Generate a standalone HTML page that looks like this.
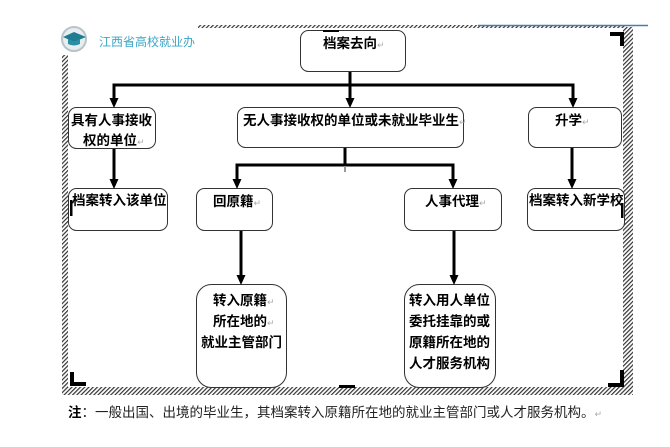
<!DOCTYPE html>
<html><head><meta charset="utf-8"><style>
html,body{margin:0;padding:0;background:#fff;}
body{width:670px;height:447px;overflow:hidden;}
svg{display:block;}
.t{font-family:"Liberation Sans","Noto Sans CJK SC",sans-serif;font-weight:bold;font-size:13.5px;fill:#000;}
.r{font-family:"Liberation Sans","DejaVu Sans",sans-serif;font-size:9px;fill:#aaa;font-weight:normal;}
.n{font-family:"Liberation Sans","Noto Sans CJK SC",sans-serif;font-size:13.5px;fill:#222;}
</style></head><body>
<svg width="670" height="447" viewBox="0 0 670 447" xmlns="http://www.w3.org/2000/svg">
<defs>
<pattern id="h" width="3" height="3" patternUnits="userSpaceOnUse" patternTransform="rotate(45)">
<rect width="3" height="3" fill="#fff"/><rect width="1.2" height="3" fill="#333"/>
</pattern>
</defs>
<!-- hatched frame -->
<rect x="198" y="25" width="427" height="3" fill="url(#h)"/>
<rect x="62" y="55" width="6" height="340" fill="url(#h)"/>
<rect x="623" y="27" width="10" height="368" fill="url(#h)"/>
<rect x="62" y="387" width="571" height="8" fill="url(#h)"/>
<line x1="478" y1="25.5" x2="648" y2="25.5" stroke="#4a7ab0" stroke-width="1.5"/>
<!-- corner marks -->
<path d="M610 34 H622 V46" fill="none" stroke="#000" stroke-width="4"/>
<path d="M72 372 V384 H86" fill="none" stroke="#000" stroke-width="4"/>
<path d="M608 385 H622 V370" fill="none" stroke="#000" stroke-width="4"/>
<rect x="339" y="385" width="16" height="3" fill="#000"/>
<!-- logo -->
<circle cx="74" cy="39" r="12" fill="#e8eef0" stroke="#b8c4c8" stroke-width="2"/>
<path d="M63 37 L74 32 L86 37 L74 42 Z" fill="#1f7d92"/>
<path d="M68 39 V44 Q74 47 80 44 V39 L74 42 Z" fill="#2a8fa6"/>
<text x="99" y="46" style="font-family:'Liberation Sans','Noto Sans CJK SC',sans-serif;font-size:12px;fill:#3aa6c6;">江西省高校就业办</text>
<!-- boxes -->
<g fill="#fff" stroke="#333" stroke-width="1">
<rect x="300.5" y="30.5" width="105" height="41" rx="8"/>
<rect x="68.5" y="107.5" width="87" height="41" rx="8"/>
<rect x="237.5" y="107.5" width="226" height="40" rx="8"/>
<rect x="528.5" y="107.5" width="93" height="40" rx="8"/>
<rect x="68.5" y="188.5" width="99" height="42" rx="8"/>
<rect x="196.5" y="188.5" width="76" height="42" rx="8"/>
<rect x="404.5" y="188.5" width="97" height="42" rx="8"/>
<rect x="527.5" y="188.5" width="97" height="42" rx="8"/>
<rect x="196.5" y="284.5" width="90" height="103" rx="15"/>
<rect x="404.5" y="284.5" width="91" height="103" rx="15"/>
</g>
<!-- connectors -->
<g stroke="#000" stroke-width="3" fill="none">
<line x1="350" y1="72" x2="350" y2="100"/>
<path d="M114 100 V85 H573 V100"/>
<line x1="114" y1="149" x2="114" y2="181"/>
<line x1="572" y1="148" x2="572" y2="181"/>
<line x1="345" y1="148" x2="345" y2="166"/>
<path d="M237 181 V165 H453 V181"/>
<line x1="241" y1="231" x2="241" y2="277"/>
<line x1="454" y1="231" x2="454" y2="277"/>
</g>
<line x1="345" y1="166" x2="345" y2="172" stroke="#999" stroke-width="2"/>
<g fill="#000">
<path d="M109.5 98 H118.5 L114 108 Z"/>
<path d="M345.5 98 H354.5 L350 108 Z"/>
<path d="M568.5 98 H577.5 L573 108 Z"/>
<path d="M109.5 179 H118.5 L114 189 Z"/>
<path d="M567.5 179 H576.5 L572 189 Z"/>
<path d="M232.5 179 H241.5 L237 189 Z"/>
<path d="M448.5 179 H457.5 L453 189 Z"/>
<path d="M236.5 275 H245.5 L241 285 Z"/>
<path d="M449.5 275 H458.5 L454 285 Z"/>
</g>
<!-- cursor marks -->
<rect x="70" y="200" width="2.5" height="16" fill="#000"/>
<rect x="621" y="203" width="2.5" height="15" fill="#000"/>
<rect x="323" y="30" width="16" height="2" fill="#000"/>
<!-- texts -->
<text class="t" x="323" y="48">档案去向<tspan class="r">↵</tspan></text>
<text class="t" x="71" y="125">具有人事接收</text>
<text class="t" x="83" y="145">权的单位<tspan class="r">↵</tspan></text>
<text class="t" x="243" y="125">无人事接收权的单位或未就业毕业生<tspan class="r">↵</tspan></text>
<text class="t" x="555" y="125">升学<tspan class="r">↵</tspan></text>
<text class="t" x="72" y="205">档案转入该单位</text>
<text class="t" x="213" y="206">回原籍<tspan class="r">↵</tspan></text>
<text class="t" x="425" y="206">人事代理<tspan class="r">↵</tspan></text>
<text class="t" x="529" y="205">档案转入新学校</text>
<text class="t" x="213" y="305">转入原籍<tspan class="r">↵</tspan></text>
<text class="t" x="213" y="326">所在地的<tspan class="r">↵</tspan></text>
<text class="t" x="201" y="347">就业主管部门</text>
<text class="t" x="409" y="305">转入用人单位</text>
<text class="t" x="409" y="326">委托挂靠的或</text>
<text class="t" x="409" y="347">原籍所在地的</text>
<text class="t" x="409" y="368">人才服务机构</text>
<text class="n" x="68" y="417"><tspan font-weight="bold" fill="#000">注</tspan>：一般出国、出境的毕业生，其档案转入原籍所在地的就业主管部门或人才服务机构。<tspan class="r">↵</tspan></text>
</svg>
</body></html>
